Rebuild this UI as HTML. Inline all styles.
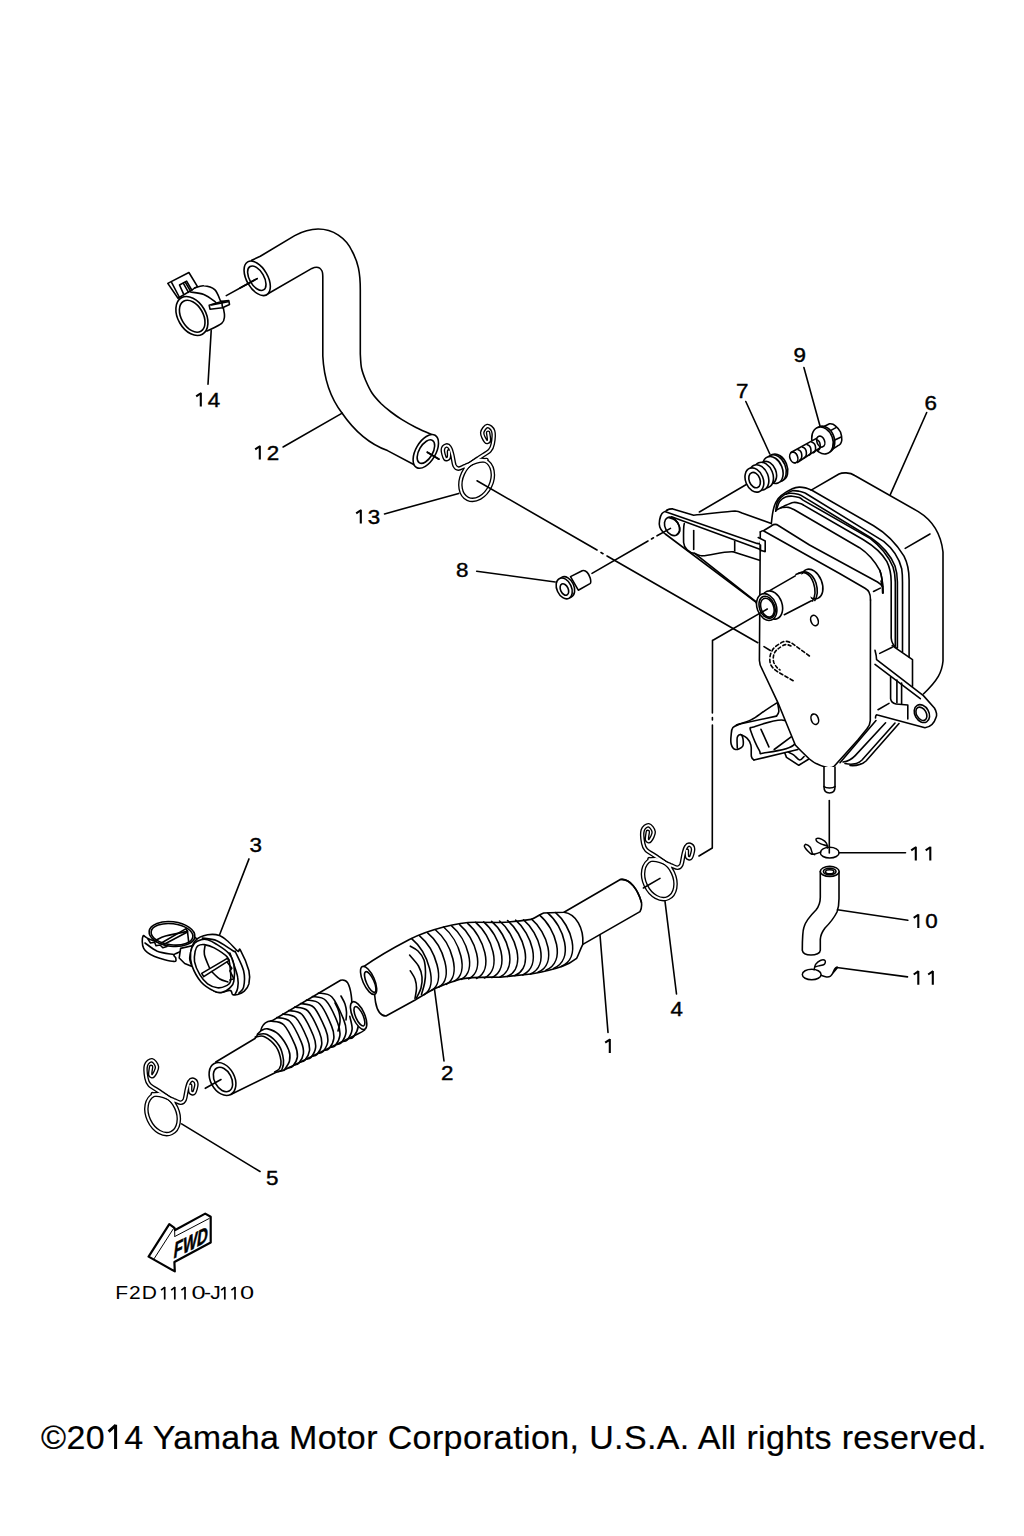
<!DOCTYPE html>
<html><head><meta charset="utf-8"><style>
html,body{margin:0;padding:0;background:#fff;}
body{width:1024px;height:1536px;position:relative;overflow:hidden;}
svg{position:absolute;left:0;top:0;}
.k{fill:none;stroke:#000;stroke-width:1.6;stroke-linecap:round;stroke-linejoin:round;}
.k .w{fill:#fff;}
.lb{font-family:"Liberation Sans",sans-serif;font-size:20px;fill:#000;letter-spacing:0.6px;stroke:#000;stroke-width:0.4px;}
.ft{font-family:"Liberation Sans",sans-serif;}
</style></head><body>
<svg width="1024" height="1536" viewBox="0 0 1024 1536">
<g class="k">
<path d="M251.7,260.3 L260.3,256.3 L294.7,235.6 C305,230 312,229 318.1,229 C333,229 346,238 352,251 C358,262 360.3,272 360.3,290 L360.3,354  C360.5,356.3 360.6,363.6 361.5,368.0 C362.4,372.4 363.9,376.1 365.6,380.3 C367.4,384.5 369.4,389.1 372.0,393.0 C374.6,396.9 378.1,400.6 381.2,403.8 C384.4,406.9 387.6,409.4 391.0,412.0 C394.4,414.6 397.4,416.8 401.6,419.4 C405.8,422.0 410.8,424.9 416.0,427.5 C421.2,430.1 430.0,433.8 432.8,435.0"/>
<path d="M265.8,295 L311.9,268.4 C316,266.5 320,267 322,271 C323,273 322.8,276 322.8,280 L322.8,356 C324,380 332,400 342,413 C355,432 372,445 387.5,450.6 L415.6,465.5"/>
<ellipse cx="257.2" cy="278.3" rx="10.5" ry="19" transform="rotate(-30 257.2 278.3)" fill="#fff"/>
<ellipse cx="256.8" cy="278.2" rx="7.2" ry="13.5" transform="rotate(-30 256.8 278.2)"/>
<ellipse cx="425.8" cy="451.4" rx="10" ry="18.6" transform="rotate(30 425.8 451.4)" fill="#fff"/>
<ellipse cx="425.9" cy="451.6" rx="6.8" ry="13" transform="rotate(30 425.9 451.6)"/>
<line x1="240" y1="288" x2="257.2" y2="278.6"/>
<line x1="427.3" y1="452.2" x2="439" y2="459.2"/>
<path d="M167.8,283.4 L188.9,272.5 L197.5,286.6 L178.0,298.3Z" fill="#fff"/>
<path d="M171.7,282.7 L179.5,297.5"/>
<path d="M183.4,293.6 L179.5,285.0 L186.6,281.1 L192.0,290.5"/>
<path d="M183.4,283.4 L188.5,292.4"/>
<path d="M185.4,282.3 L190.5,291.2"/>
<path d="M196.7,287.3 L203.8,285.8 L214.7,289.7 L220.2,300.6 L223.3,307.7 L224.1,316.2 L221.7,323.3 L206.9,331.1 L197.5,335.0 L183.4,299.1Z" fill="#fff" stroke="none"/>
<path d="M194.4,288.1 C195.9,287.7 200.4,285.5 203.8,285.8 C207.1,286.0 211.9,287.1 214.7,289.7 C217.5,292.2 219.6,299.1 220.5,301.0"/>
<path d="M190.5,292.0 C192.7,292.4 199.7,292.8 203.8,294.4 C207.8,295.9 212.6,299.8 214.7,301.4 C216.8,303.0 216.0,303.4 216.2,303.8"/>
<path d="M223.3,307.7 C223.5,309.1 224.7,313.6 224.5,316.2 C224.2,318.9 224.6,320.8 221.7,323.3 C218.8,325.8 209.3,329.8 206.9,331.1"/>
<ellipse cx="191.9" cy="316" rx="14" ry="21" transform="rotate(-30 191.9 316)" fill="#fff"/>
<ellipse cx="192.2" cy="316.2" rx="10.9" ry="17.3" transform="rotate(-30 192.2 316.2)"/>
<path d="M209.2,305.3 L221.7,301.4 L228.8,300.6 L229.5,304.5 L222.5,307.7 L210.0,309.2Z" fill="#fff"/>
<path d="M221.7,301.4 L222.5,307.7"/>
<path d="M211.6,304.9 L228.0,301.8"/>
</g>
<defs><g id="wc" fill="none"><ellipse cx="0" cy="0" rx="15" ry="21" transform="rotate(-25)"/><path d="M-11.5,-47.1 C-11.6,-45.8 -12.7,-40.7 -12.3,-39.3 C-11.9,-37.9 -10.3,-37.2 -9.2,-38.5 C-8.1,-39.8 -5.4,-44.6 -5.6,-47.1 C-5.9,-49.7 -8.9,-53.5 -10.7,-53.8 C-12.5,-54.0 -15.7,-51.6 -16.6,-48.7 C-17.5,-45.8 -16.8,-39.4 -16.2,-36.2 C-15.6,-32.9 -15.5,-31.6 -13.1,-29.2 C-10.6,-26.7 -5.4,-24.2 -1.4,-21.3 C2.7,-18.5 9.1,-13.5 11.1,-12.0"/><path d="M-9.9,-19.8 C-8.3,-19.5 -3.3,-19.2 0.2,-18.2 C3.7,-17.2 8.2,-15.1 11.1,-13.9 C14.1,-12.8 16.4,-11.1 18.2,-11.2 C20.0,-11.3 21.0,-12.0 22.1,-14.3 C23.1,-16.7 23.6,-22.3 24.4,-25.2 C25.2,-28.2 25.7,-30.8 26.8,-32.3 C27.8,-33.8 29.5,-34.6 30.7,-34.2 C31.9,-33.8 33.7,-32.1 33.8,-29.9 C33.9,-27.8 32.4,-22.6 31.5,-21.3 C30.5,-20.0 28.6,-21.0 27.9,-22.1 C27.3,-23.3 27.6,-27.3 27.6,-28.4"/></g></defs>
<g transform="translate(162.6,1114)"><use href="#wc" stroke="#000" stroke-width="4.6" stroke-linecap="round" stroke-linejoin="round"/><use href="#wc" stroke="#fff" stroke-width="1.9" stroke-linecap="round" stroke-linejoin="round"/></g>
<g transform="translate(659.3,879)"><use href="#wc" stroke="#000" stroke-width="4.6" stroke-linecap="round" stroke-linejoin="round"/><use href="#wc" stroke="#fff" stroke-width="1.9" stroke-linecap="round" stroke-linejoin="round"/></g>
<g transform="translate(476.6,479.8) scale(-1,1)"><use href="#wc" stroke="#000" stroke-width="4.6" stroke-linecap="round" stroke-linejoin="round"/><use href="#wc" stroke="#fff" stroke-width="1.9" stroke-linecap="round" stroke-linejoin="round"/></g>
<g class="k">
<path d="M811.2,490.1 L839,474 C842,472.5 850,472 854.7,475.5 L918.3,511.6 C932,520 941,534 943,552 L943,661 C942,672 938,680 923.4,694 L870,745 L845,765 L830,768 L760,660 L760,532 Z" fill="#fff" stroke="none"/>
<path d="M811.2,490.1 L839,474 C842,472.5 850,472 854.7,475.5 L918.3,511.6 C932,520 941,534 943,552 L943,661 C942,672 938,680 923.4,694"/>
<path d="M771.3,524.0 C771.5,522.0 772.1,515.9 772.8,512.3 C773.5,508.7 774.3,505.3 775.7,502.5 C777.1,499.7 778.3,498.0 781.1,495.7 C783.9,493.4 789.3,490.2 792.3,488.8 C795.3,487.4 797.0,487.2 799.2,487.1 C801.4,487.0 803.4,487.4 805.5,487.9 C807.6,488.4 810.8,489.9 811.9,490.3 L873.6,525.8 C884,532 896,543 904,556.2 C908,564 909.1,572 909.1,580 L909.1,657"/>
<path d="M786.0,494.2 C787.0,493.6 790.1,491.3 792.3,490.8 C794.5,490.3 797.0,490.9 799.2,491.3 C801.4,491.7 804.5,492.9 805.5,493.2 L883.7,541.4 C892,548 899,558 901.7,568.7 C902.5,574 902.5,578 902.5,582 L902.5,652"/>
<path d="M775.7,511.3 C776.0,509.7 776.2,504.3 777.7,501.5 C779.2,498.7 782.4,496.1 784.5,494.7 C786.6,493.3 788.1,493.3 790.4,493.2 C792.7,493.1 796.4,493.8 798.2,494.2 C800.1,494.6 801.0,495.4 801.5,495.6 L871.2,538 C880,544 890,554 895,566 C897,572 897.4,577 897.4,582 L897.4,648"/>
<path d="M776.7,509.3 C777.2,508.0 778.1,503.5 779.6,501.5 C781.1,499.5 783.4,498.0 785.5,497.1 C787.6,496.2 790.0,496.1 792.3,496.2 C794.6,496.3 797.4,497.0 799.2,497.6 C801.0,498.2 802.4,499.7 803.0,500.1 L870.4,538.6 C878.5,544.8 888,555 893,567 C895,573 895.3,577 895.3,582 L895.3,646"/>
<path d="M776.2,510.3 C777.4,509.6 780.6,507.7 783.5,506.4 C786.4,505.1 790.5,503.0 793.3,502.5 C796.1,502.0 798.4,503.0 800.2,503.5 C802.0,504.0 803.4,505.1 804.0,505.4 L863.4,539.8 C872,545 882,553 886.9,561.7 C890,568 891.2,575 891.2,582 L891.2,638 C891.5,642 893,645 896,647.5"/>
<path d="M781.0,507.6 C782.2,507.6 786.2,507.0 788.4,507.4 C790.6,507.8 793.3,509.4 794.3,509.8 L859.5,547.7 C866,552 874,560 879.8,570.3 C882,576 882.8,583 883,593"/>
<path d="M876,720.5 L840,762.7"/>
<path d="M885.6,722.8 L855.2,755.6 C851,760 847,761.5 843,762"/>
<path d="M895,723 L862,760 C858,764 852,765 845,763.5"/>
<path d="M899,723.5 L866,761 C862,764.5 856,766 850,765.5"/>
<path d="M875,650.3 C876,654 876.6,657 876.6,659.7 L923.4,695.6 L934.4,708 C937,712 937,716 936,717.5 C934,724 931,727 925,727.7 L875,714.4 Z" fill="#fff" stroke="none"/>
<path d="M875,650.3 C876,654 876.6,657 876.6,659.7 L923.4,695.6 L934.4,708 C937,712 937,716 936,717.5 C934,724 931,727 925,727.7 L877.5,715 C876,714.5 875.5,716 875.5,718"/>
<path d="M875,664.4 L920.3,698.7"/>
<path d="M892.2,645.6 L912.5,659.7 L912.5,686.2"/>
<path d="M890.6,677 L890.6,698.7 C891,702 893,703.4 896,704 L907.8,705 L907.8,719"/>
<path d="M896.9,680 L896.9,703"/><path d="M901.6,683 L901.6,704"/>
<ellipse cx="921.9" cy="713.6" rx="7" ry="9.5" transform="rotate(-30 921.9 713.6)" fill="#fff"/>
<ellipse cx="921.4" cy="713.8" rx="4.8" ry="7.2" transform="rotate(-30 921.4 713.8)"/>
<path d="M879.7,653.4 L892.2,647.2"/><path d="M878,709.7 L889,703.4"/>
<path d="M905.2,548.4 L930,534"/>
<path d="M659.5,525.3 C659,518 662,513 666.6,511.2 C669,509.5 671,509 672.8,508.9 L693.1,515.2 C700,515 720,512 733.7,511.2 C736,511 738,511.5 740,512.8 L771.3,524 L763.4,616 C761,612 759,607 755.6,601.9 L665,535 C661,532 660,529 659.5,525.3 Z" fill="#fff" stroke="none"/>
<path d="M667.5,510.2 C666.6,510.8 663.3,511.9 662.0,513.5 C660.7,515.1 660.0,517.8 659.6,520.0 C659.2,522.2 659.2,525.0 659.8,527.0 C660.4,529.0 662.0,530.8 663.0,532.0 C664.0,533.2 665.5,534.1 666.0,534.5"/>
<path d="M666,534.5 L755.6,601.9 C759,607 761,612 763.4,616"/>
<path d="M667,510 C669,509 671,508.8 672.8,508.9 L693.7,515.2 C705,514.5 725,511.5 735,511 C738,511 740,512 742,513 L771.3,523.5"/>
<path d="M665.5,511.7 L757,543.4 C759.5,544 761,544.3 762.5,544.6"/>
<path d="M671.5,516.8 L760.5,549.5"/>
<path d="M694.7,553.4 L757.5,603"/>
<path d="M684.3,523.6 C683.5,526 683.4,532 683.6,542.5 C684,548 689,553 694.7,553.4 C698,555 701,556 702.5,555.8 C712,555 725,551 733.7,551.9 L760.3,560.5"/>
<path d="M693.7,530.5 L693.7,549.5"/><path d="M734.7,541.5 L734.7,551"/>
<ellipse cx="672" cy="526.4" rx="6.8" ry="9.8" transform="rotate(-28 672 526.4)" fill="#fff"/>
<path d="M669.0,517.5 C670.0,517.9 673.3,518.7 675.0,520.0 C676.7,521.3 678.2,523.7 679.0,525.5 C679.8,527.3 680.1,529.5 679.8,531.0 C679.5,532.5 677.5,533.9 677.0,534.5"/>
<path d="M776.9,702.9 L764.6,710.8 L751.4,719.6 L736.4,724.9 L732.0,728.4 L731.2,744.2 L735.5,749.5 L742.6,746.0 L743.5,737.2 L740.8,734.6 L745.2,736.3 L749.6,742.5 L751.4,747.7 L751.4,756.5 L754.0,760.0 L784.8,753.0 L798.8,765.3 L808.5,759.2 L795.3,744.2Z" fill="#fff" stroke="none"/>
<path d="M776.9,702.9 C774.8,704.2 768.8,708.0 764.6,710.8 C760.3,713.6 756.1,717.3 751.4,719.6 C746.7,722.0 738.9,724.0 736.4,724.9"/>
<path d="M777.7,703.8 C777.9,705.1 779.0,709.6 778.8,711.7 C778.6,713.7 776.8,715.4 776.4,716.1"/>
<path d="M776.4,716.1 L739.9,724.0"/>
<path d="M739.9,724.0 C738.8,724.6 734.4,725.8 732.9,727.5 C731.4,729.3 731.4,731.8 731.2,734.6 C730.9,737.3 730.4,741.7 731.2,744.2 C731.9,746.7 733.6,749.1 735.5,749.5 C737.5,749.9 741.3,748.2 742.6,746.4 C743.8,744.7 743.3,740.9 743.0,738.9 C742.7,737.0 741.8,734.8 740.8,734.6 C739.9,734.3 737.9,735.0 737.3,737.2 C736.7,739.4 737.3,746.0 737.3,747.7"/>
<path d="M740.8,734.6 C741.8,735.1 745.3,736.3 747.0,738.1 C748.7,739.8 750.2,742.0 750.9,745.1 C751.7,748.2 750.9,754.0 751.4,756.5 C751.9,759.0 753.6,759.5 754.0,760.0"/>
<path d="M754.0,760.0 L797.9,749.5"/>
<path d="M751.4,727.5 C756.9,726.3 777.6,717.7 784.8,720.5 C791.9,723.3 797.9,738.8 794.4,744.2 C790.9,749.6 769.5,752.0 763.7,753.0 C757.8,754.0 761.5,754.2 759.3,750.4 C757.1,746.6 751.8,734.0 750.5,730.2 C749.2,726.3 751.2,728.0 751.4,727.5"/>
<path d="M774.2,749.5 L791.8,736.3"/>
<path d="M761.0,729.3 L768.9,746.9"/>
<path d="M784.8,753.0 L786.5,757.4 L798.8,765.3 L808.5,759.2"/>
<path d="M788.3,752.1 C789.2,752.6 791.6,753.4 793.6,754.8 C795.5,756.1 797.9,759.7 799.7,760.0 C801.5,760.3 803.4,757.1 804.1,756.5"/>
<path d="M760.3,531.9 C761,531 762.5,530.7 763.8,530.5 L771.7,525.7 C773,524.7 774,524.4 775.2,524.4 C776.5,524.4 777.5,524.8 777.9,525.3 L809.5,545 L877.5,582 C880,583.5 881.5,585 882.6,586.7 L870.5,600 L870.3,720.6 C870,724 869,726.5 867.2,728.4 L857.8,740 L834.4,766 C832,768 830,768 828,767.7 C820,766 814,763 809.4,759 C803,753 799,749 795.3,745 L778,702.8 L762.5,670 C760,666 759.4,663 759.4,660.6 Z" fill="#fff" stroke="none"/>
<path d="M760.3,531.9 C761,531 762.5,530.7 763.8,530.5 L771.7,525.7 C773,524.7 774,524.4 775.2,524.4 C776.5,524.4 777.5,524.8 777.9,525.3 L809.5,545 L877.5,582 C880,583.5 881.5,585 882.6,586.7"/>
<path d="M870.5,600 L870.3,720.6 C870,724 869,726.5 867.2,728.4 L857.8,740 L834.4,766 C832,768 830,768 828,767.7 C820,766 814,763 809.4,759 C803,753 799,749 795.3,745 L778,702.8 L762.5,670 C760,666 759.4,663 759.4,660.6 L760.3,531.9"/>
<path d="M763.8,531 L840,573.8 L865,588.3 C867,589.5 868.5,591 869,592.2 C870,594 870.5,597 870.5,600"/>
<path d="M758.2,537.5 L765.2,541 L765.2,551.6 L760.5,550.4 L760.5,545" fill="#fff"/>
<path d="M873.5,591.5 L880.3,588.1"/><path d="M881,581 C882,584 882.8,589 882.6,593"/>
<path d="M879.8,570.3 C882,576 882.8,583 883,593"/>
<ellipse cx="814.5" cy="620.5" rx="3.6" ry="5.4" transform="rotate(-20 814.5 620.5)"/>
<ellipse cx="814.8" cy="719.2" rx="3.6" ry="5.4" transform="rotate(-20 814.8 719.2)"/>
<path d="M809.4,656 L792.2,643.4 C788,641 785,641 782.8,641.9 C777,645 773,648 771.9,651.2 C769.5,655 769.5,660 770.3,663.7 C772,668 776,671 779.7,673 L793.7,681" stroke-dasharray="3.5,2.5"/>
<path d="M791,646 C787,644 785,644.5 783,645.5 C778,648.5 775,651 774,654 C773,657 773,660 774,663 C775.5,666 777,668 780,670" stroke-dasharray="3,2.5"/>
<ellipse cx="812" cy="584" rx="10" ry="15.5" transform="rotate(-22 812 584)" fill="#fff"/>
<path d="M796,574.5 C803,570 810,573 813.5,583 C815.5,589 815.5,596 812.5,601"/>
<path d="M798.5,573.5 C805.5,569.5 812.5,573 816,583 C817.8,589 817.6,596 814.8,600.5"/>
<path d="M769.7,590.6 L795.3,575.9 L803,574 L809,590 L811.4,600.8 L784.3,614.7 Z" fill="#fff" stroke="none"/>
<path d="M769.7,590.6 L795.3,575.9 M784.3,614.7 L811.4,600.8"/>
<ellipse cx="772" cy="605" rx="10" ry="14.6" transform="rotate(-20 772 605)" fill="#fff"/>
<ellipse cx="766.8" cy="607.2" rx="9.6" ry="13.8" transform="rotate(-20 766.3 607.4)" fill="#fff"/>
<ellipse cx="767.2" cy="607.5" rx="7.6" ry="11.4" transform="rotate(-20 766.6 607.6)"/>
<ellipse cx="767.4" cy="607.8" rx="6.3" ry="9.8" transform="rotate(-20 767 607.8)"/>
<path d="M824,767 L824,787 C824,791 826,793 829.5,793 C833,793 835,791 835,787 L835,767" fill="#fff"/>
<path d="M824,786.5 C826,788.5 833,788.5 835,786.5"/>
</g>
<g class="k">
<path d="M363.3,966.9 C380,955 395,947 409.4,939.5 C420,934 432,930 443.7,927 C455,924 465,922.3 475,922.3 L500,922.5 C512,922 522,921 531,919.4 C536,918 540,914 543.7,913 L564,912.3 L620.3,879.5 C630,878 638,890 641.4,902.2 C642,906 641.5,909 640,911.6 L582.8,944.4 C580,950 578,956 576.6,958.4 C572,962 566,965 562.5,966.2 C552,970 542,972 531,974 L500,977.2 C488,977 470,977 459.4,979.4 C450,982 442,985 434.4,988.7 C428,992 420,997 415.6,999.7 L386,1016 C380,1016 377,1010 375.5,1002 C375,998 374.8,996 374.6,994.5 Z" fill="#fff"/>
<path d="M411.6,938.7 C427.8,952.1 439.0,985.7 424.2,994.6"/>
<path d="M419.6,935.8 C435.4,948.9 446.3,981.6 431.6,990.4"/>
<path d="M427.6,932.9 C443.3,945.9 454.1,978.4 438.9,987.0"/>
<path d="M435.6,930.0 C451.4,943.0 462.2,975.6 446.3,984.3"/>
<path d="M443.6,927.0 C459.4,940.1 470.3,972.7 454.0,981.4"/>
<path d="M451.6,925.8 C467.1,938.6 477.8,970.7 461.3,979.3"/>
<path d="M459.6,924.6 C475.3,937.6 486.2,970.2 468.7,978.9"/>
<path d="M467.6,923.4 C483.6,936.6 494.6,969.7 476.5,978.5"/>
<path d="M475.6,922.3 C491.8,935.7 502.9,969.1 484.4,978.0"/>
<path d="M483.6,921.9 C499.8,935.2 510.9,968.7 492.0,977.6"/>
<path d="M491.6,921.4 C507.8,934.8 518.9,968.3 499.7,977.2"/>
<path d="M499.6,921.0 C515.7,934.3 526.8,967.6 507.4,976.4"/>
<path d="M507.6,920.6 C523.6,933.8 534.6,966.8 515.0,975.6"/>
<path d="M515.6,920.2 C531.5,933.3 542.4,966.1 522.7,974.9"/>
<path d="M523.6,919.8 C539.3,932.8 550.2,965.4 530.3,974.1"/>
<path d="M531.6,919.1 C547.0,931.9 557.7,963.8 538.0,972.3"/>
<path d="M539.6,915.1 C555.6,928.3 566.7,961.5 545.9,970.3"/>
<path d="M547.6,912.9 C563.7,926.2 574.8,959.5 553.6,968.4"/>
<path d="M555.6,912.6 C571.2,925.5 582.0,957.9 561.1,966.5"/>
<path d="M564,912.3 C576,914 584,928 582.8,944.4"/>
<path d="M410.3,946.2 C411.6,947.0 415.7,948.7 418.0,951.0 C420.3,953.3 422.8,956.5 424.0,960.0 C425.2,963.5 425.4,968.2 425.5,972.0 C425.6,975.8 425.3,979.2 424.6,983.0 C423.9,986.8 422.0,992.6 421.5,994.5"/>
<path d="M409.6,955.1 C411.1,956.9 416.4,962.4 418.5,966.0 C420.6,969.6 421.6,973.3 422.0,977.0 C422.4,980.7 421.9,984.5 421.0,988.0 C420.1,991.5 417.2,996.3 416.5,998.0"/>
<path d="M410.3,970.8 C411.1,972.2 414.0,976.1 415.0,979.0 C416.0,981.9 416.5,984.8 416.5,988.0 C416.5,991.2 415.2,996.8 415.0,998.5"/>
<ellipse cx="368.6" cy="980.4" rx="5.8" ry="15.1" transform="rotate(-24 368.6 980.4)" fill="#fff"/>
<ellipse cx="370.2" cy="982" rx="3.8" ry="11.2" transform="rotate(-24 370.2 982)"/>
<path d="M620.3,879.5 C630,878 638,890 641.4,902.2"/>
</g>
<g class="k">
<path d="M215.8,1062 L255,1038.5 L260.6,1031 C262,1026 265,1022 272.3,1020.6 L340.6,980.2 C344,979.5 346.5,981 347.7,982.9 C349.5,986 350.5,990 351.2,995.2 L353,1004 L365.2,1026.8 L358.2,1033.8 L282.6,1070.7 L275.6,1072.5 L230.8,1094.5 L210,1070 Z" fill="#fff" stroke="none"/>
<path d="M215.8,1062 L255,1038.5 C256.5,1036 258,1035 257.5,1034 L260.6,1031.2 C261.5,1027 264,1023 268,1021.6 C270,1021 271,1020.8 272.3,1020.6 L340.6,980.2 C344,979.5 346.5,981 347.7,982.9 C349.5,986 350.5,990 351.2,995.2 C351.6,998 351.8,1000 351.8,1002"/>
<path d="M230.8,1094.5 L275.6,1072.5 C278,1071.5 280,1071 282.6,1070.7 L358.2,1033.8 C361,1032.5 363,1031.5 364.6,1030"/>
<path d="M255.2,1037.0 C256.8,1037.0 261.0,1035.0 264.5,1036.7 C268.0,1038.4 273.4,1042.9 276.2,1046.9 C278.9,1051.0 280.5,1057.4 281.0,1061.0 C281.5,1064.6 280.4,1066.9 279.4,1068.7 C278.3,1070.5 275.5,1071.4 274.7,1071.9"/>
<path d="M257.5,1034.5 C259.1,1034.5 263.4,1032.7 267.0,1034.5 C270.6,1036.3 276.2,1041.2 279.0,1045.5 C281.8,1049.8 283.0,1056.0 283.5,1060.0 C284.0,1064.0 282.8,1067.6 282.0,1069.5 C281.2,1071.4 279.1,1071.2 278.5,1071.5"/>
<path d="M261.4,1030.5 C262.4,1030.2 264.8,1028.2 267.7,1028.9 C270.6,1029.6 275.1,1030.9 278.6,1034.4 C282.1,1037.9 286.9,1045.6 288.7,1050.0 C290.5,1054.4 290.3,1057.6 289.5,1061.0 C288.7,1064.4 284.9,1068.8 284.0,1070.3"/>
<path d="M270.8,1021.1 C273.0,1021.7 279.7,1020.7 283.7,1024.7 C287.8,1028.7 292.8,1039.8 295.1,1045.1 C297.4,1050.5 297.7,1053.3 297.4,1056.8 C297.0,1060.3 294.3,1064.4 292.8,1066.2 C291.3,1068.0 289.1,1067.4 288.3,1067.7"/>
<path d="M276.8,1017.6 C278.9,1018.2 285.7,1017.2 289.7,1021.3 C293.8,1025.3 298.9,1036.5 301.2,1041.9 C303.5,1047.3 303.8,1050.2 303.4,1053.7 C303.0,1057.3 300.4,1061.4 298.8,1063.3 C297.3,1065.1 295.1,1064.5 294.3,1064.8"/>
<path d="M282.7,1014.1 C284.9,1014.7 291.7,1013.7 295.8,1017.8 C299.9,1021.9 305.0,1033.3 307.3,1038.7 C309.5,1044.2 309.9,1047.1 309.5,1050.7 C309.1,1054.3 306.4,1058.5 304.9,1060.3 C303.4,1062.2 301.1,1061.6 300.4,1061.9"/>
<path d="M288.7,1010.6 C290.8,1011.2 297.7,1010.2 301.8,1014.3 C305.9,1018.5 311.0,1030.0 313.3,1035.5 C315.6,1041.1 316.0,1044.0 315.6,1047.6 C315.2,1051.3 312.5,1055.5 311.0,1057.4 C309.4,1059.3 307.2,1058.7 306.4,1059.0"/>
<path d="M294.6,1007.1 C296.8,1007.7 303.7,1006.7 307.8,1010.9 C311.9,1015.1 317.1,1026.7 319.4,1032.3 C321.7,1038.0 322.1,1040.9 321.7,1044.6 C321.3,1048.3 318.6,1052.6 317.0,1054.5 C315.5,1056.4 313.2,1055.8 312.5,1056.1"/>
<path d="M300.6,1003.5 C302.8,1004.2 309.7,1003.2 313.8,1007.4 C318.0,1011.7 323.1,1023.5 325.5,1029.1 C327.8,1034.8 328.2,1037.8 327.8,1041.5 C327.4,1045.3 324.6,1049.6 323.1,1051.6 C321.5,1053.5 319.3,1052.9 318.5,1053.2"/>
<path d="M306.5,1000.0 C308.7,1000.7 315.6,999.6 319.8,1004.0 C324.0,1008.3 329.2,1020.2 331.5,1025.9 C333.9,1031.7 334.2,1034.7 333.8,1038.5 C333.4,1042.3 330.7,1046.7 329.1,1048.6 C327.6,1050.6 325.3,1050.0 324.5,1050.2"/>
<path d="M312.4,996.5 C314.7,997.2 321.6,996.1 325.8,1000.5 C330.0,1004.9 335.3,1016.9 337.6,1022.7 C340.0,1028.6 340.3,1031.6 339.9,1035.5 C339.5,1039.3 336.8,1043.7 335.2,1045.7 C333.6,1047.7 331.3,1047.1 330.6,1047.3"/>
<path d="M318.4,993.0 C320.6,993.7 327.6,992.6 331.9,997.0 C336.1,1001.4 341.3,1013.7 343.7,1019.6 C346.0,1025.4 346.4,1028.5 346.0,1032.4 C345.6,1036.3 342.8,1040.8 341.3,1042.8 C339.7,1044.8 337.4,1044.2 336.6,1044.4"/>
<path d="M349.8,1016.4 C350.1,1018.5 352.5,1025.4 352.1,1029.4 C351.7,1033.3 348.9,1037.8 347.3,1039.9 C345.7,1041.9 343.4,1041.3 342.6,1041.5"/>
<path d="M355.8,1013.2 C356.2,1015.3 358.6,1022.3 358.2,1026.3 C357.8,1030.3 355.0,1034.9 353.4,1036.9 C351.8,1039.0 349.5,1038.4 348.7,1038.6"/>
<path d="M335.0,1003.0 C335.7,1004.5 338.2,1008.8 339.0,1012.0 C339.8,1015.2 340.2,1018.8 340.0,1022.0 C339.8,1025.2 338.3,1029.5 338.0,1031.0"/>
<path d="M341.0,996.0 C341.7,997.3 344.1,1001.3 345.0,1004.0 C345.9,1006.7 346.3,1009.3 346.5,1012.0 C346.7,1014.7 346.1,1018.7 346.0,1020.0"/>
<ellipse cx="222.5" cy="1079" rx="12" ry="17.5" transform="rotate(-28 222.5 1079)" fill="#fff"/>
<ellipse cx="223" cy="1079.5" rx="8.5" ry="13" transform="rotate(-28 223 1079.5)"/>
<ellipse cx="358.6" cy="1015.6" rx="6" ry="15" transform="rotate(-24 358.6 1015.6)" fill="#fff"/>
<ellipse cx="359.4" cy="1016.3" rx="3.7" ry="10.5" transform="rotate(-24 359.4 1016.3)"/>
</g>
<g class="k">
<path d="M143.0,936.1 C142.1,937.7 141.7,945.0 143.7,948.4 C145.6,951.9 149.6,954.5 154.6,956.6 C159.6,958.8 170.2,961.2 173.8,961.4 C177.3,961.7 175.6,959.3 175.8,958.0 C176.0,956.8 172.0,956.0 175.1,953.9 C178.2,951.9 191.1,948.4 194.3,945.7 C197.5,943.0 198.1,937.5 194.3,937.5 C190.4,937.5 178.5,945.5 171.0,945.7 C163.5,945.9 153.8,940.5 149.1,938.9 C144.5,937.3 143.9,934.5 143.0,936.1Z" fill="#fff"/>
<ellipse cx="172" cy="934" rx="23" ry="12.3" transform="rotate(7 172 934)" fill="#fff"/>
<ellipse cx="172" cy="934.3" rx="21" ry="10.6" transform="rotate(7 172 934.3)"/>
<path d="M145.0,943.0 C147.1,944.3 152.6,949.2 157.3,951.2 C162.1,953.1 171.0,954.0 173.8,954.6"/>
<path d="M156.0,940.2 C157.6,939.6 160.3,937.6 165.5,936.1 C170.8,934.7 183.8,932.1 187.4,931.4"/>
<path d="M161.4,943.0 L186.1,928.6 L187.4,932.0 L164.2,944.3"/>
<path d="M187.4,930.7 L188.8,943.0"/>
<path d="M147.8,938.9 L150.5,943.0 L154.6,942.3 L156.0,945.7 L160.1,945.0 L162.8,947.8 L166.9,946.4"/>
<path d="M180.6,948.4 L192.2,945.7 L194.3,953.9 L191.5,966.2 L184.7,963.5 L179.2,958.0Z" fill="#fff"/>
<path d="M195.9,940.1 C198.7,937.1 203.7,935.6 207.6,934.8 C211.6,934.1 215.9,934.3 219.4,935.5 C222.9,936.7 225.5,939.4 228.6,942.0 C231.6,944.6 235.8,949.8 237.7,951.2 C239.7,952.5 238.5,946.9 240.4,950.2 C242.2,953.5 247.4,965.2 248.9,970.8 C250.3,976.4 249.6,980.5 248.9,983.9 C248.1,987.3 246.1,989.4 244.3,991.1 C242.4,992.8 239.7,993.8 237.7,994.4 C235.8,994.9 233.8,995.0 232.5,994.4 C231.2,993.7 232.9,991.0 229.9,990.4 C226.8,989.9 220.5,995.2 214.2,991.1 C207.9,987.0 195.9,972.0 191.9,965.6 C188.0,959.1 190.0,956.7 190.6,952.5 C191.3,948.2 193.0,943.0 195.9,940.1Z" fill="#fff"/>
<path d="M202.4,938.1 C204.8,938.5 211.8,938.6 216.8,940.7 C221.8,942.8 229.4,948.7 232.5,950.5 C235.6,952.4 234.7,951.6 235.1,951.8"/>
<path d="M235.1,951.2 C236.5,954.5 242.2,964.8 243.6,970.8 C245.0,976.8 244.4,983.5 243.6,987.2 C242.9,990.9 239.8,992.1 239.0,993.1"/>
<path d="M229.9,953.1 C230.5,955.0 232.5,960.2 233.8,964.3 C235.1,968.3 237.1,973.4 237.7,977.4 C238.4,981.3 238.2,985.0 237.7,987.8 C237.3,990.7 235.6,993.3 235.1,994.4"/>
<path d="M190.6,952.5 C191.1,948.8 192.8,945.5 194.5,943.3 C196.3,941.2 198.9,940.3 201.1,939.7 C203.3,939.1 205.1,939.0 207.6,939.7 C210.1,940.4 212.7,941.7 216.1,944.0 C219.6,946.2 225.6,949.8 228.6,953.1 C231.5,956.5 232.9,959.6 233.8,964.3 C234.7,969.0 234.5,977.4 233.8,981.3 C233.2,985.2 231.8,986.0 229.9,987.8 C227.9,989.7 224.6,991.9 222.0,992.4 C219.4,993.0 217.7,992.8 214.2,991.1 C210.7,989.4 204.8,986.2 201.1,981.9 C197.4,977.7 193.7,970.5 191.9,965.6 C190.2,960.7 190.2,956.2 190.6,952.5Z" fill="#fff"/>
<path d="M195.2,951.2 C195.7,948.6 196.3,947.0 197.8,945.9 C199.3,944.9 201.6,944.3 204.4,944.6 C207.1,945.0 210.4,945.8 214.2,947.9 C218.0,950.0 224.6,954.1 227.3,957.1 C229.9,960.0 229.3,961.5 229.9,965.6 C230.4,969.6 231.2,977.9 230.5,981.3 C229.9,984.7 228.1,984.8 226.0,985.9 C223.8,987.0 220.5,988.2 217.5,987.8 C214.4,987.5 210.6,986.1 207.6,983.9 C204.7,981.7 202.0,978.4 199.8,974.7 C197.6,971.0 195.3,965.6 194.5,961.6 C193.8,957.7 194.7,953.8 195.2,951.2Z"/>
<path d="M201.7,973.4 L227.3,958.4 L229.2,960.3 L203.7,976.7 L201.7,973.4"/>
<path d="M205.0,945.9 C204.9,947.4 203.6,950.7 204.4,954.5 C205.1,958.2 208.7,965.9 209.6,968.2"/>
<path d="M211.6,971.5 C212.9,972.7 216.7,976.9 219.4,978.7 C222.1,980.4 226.5,981.4 227.9,981.9"/>
<path d="M227.3,962.3 L231.8,968.2 L229.9,970.8 L233.8,978.7 L229.9,980.0"/>
</g>
<g class="k">
<path d="M820.3,871.4 L820.3,897.2 C820.3,903 818.7,906.6 816,910 C812,914 806,920 804,927 C802.3,932 802.3,940 802.3,950.3 C803,954 807,955 811,955 C816,955 820.3,953 820.3,950.3 L820.3,939.4 C820.5,935 822,932 825,928 C829,924 834,918 837,912 C838.5,908 839,903 839,898.7 L839,871.4" fill="#fff"/>
<ellipse cx="829.7" cy="871.4" rx="9.4" ry="5" fill="#fff"/>
<ellipse cx="829.7" cy="871.6" rx="6.3" ry="3.2"/>
<ellipse cx="829.7" cy="871.8" rx="4.2" ry="2.1"/>
</g>
<g class="k" style="stroke-width:1.5">
<ellipse cx="829.7" cy="852.7" rx="9.4" ry="5.4" fill="#fff"/>
<path d="M821.1,851.9 C820.2,852.2 817.2,853.4 815.6,853.8 C814.1,854.1 813.0,854.7 811.7,854.2 C810.4,853.8 809.0,852.4 807.8,851.1 C806.6,849.8 804.6,847.5 804.4,846.4 C804.1,845.3 805.3,844.2 806.2,844.4 C807.2,844.5 809.1,845.7 810.2,847.2 C811.2,848.7 811.7,852.2 812.5,853.4 C813.3,854.7 814.5,854.5 814.8,854.7"/>
<path d="M827.3,848.0 C827.2,847.2 827.5,844.7 826.6,843.3 C825.7,841.8 823.6,840.2 821.9,839.4 C820.2,838.6 817.2,838.2 816.4,838.6 C815.6,839.0 816.0,840.7 817.2,841.7 C818.4,842.8 821.7,844.1 823.4,844.8 C825.2,845.5 827.1,845.8 827.8,845.9"/>
<ellipse cx="811.7" cy="974.5" rx="9.4" ry="5.3" fill="#fff"/>
<path d="M814.1,969.8 C814.3,968.9 814.6,965.9 815.6,964.4 C816.7,962.8 818.8,961.1 820.3,960.5 C821.9,959.8 824.3,959.8 825.0,960.5 C825.7,961.1 825.3,963.5 824.2,964.4 C823.2,965.3 820.2,965.5 818.8,965.9 C817.3,966.3 816.1,966.6 815.6,966.7"/>
<path d="M821.1,975.3 C822.0,975.6 825.0,976.7 826.6,976.9 C828.1,977.0 829.3,976.9 830.5,976.1 C831.6,975.3 832.4,973.6 833.6,972.2 C834.8,970.8 837.2,968.2 837.5,967.5 C837.8,966.8 836.1,967.1 835.2,968.3 C834.2,969.5 832.6,973.5 832.0,974.5"/>
</g>
<g class="k">
<path d="M211.2,330.6 L208.0,384.3"/>
<path d="M283.1,447.0 L342.2,413.1"/>
<path d="M384.5,513.9 L458.7,493.4"/>
<path d="M476.7,571.2 L555.2,582.0"/>
<path d="M745.8,401.5 L769.8,454.0"/>
<path d="M803.9,367.5 L820.0,426.0"/>
<path d="M926.7,412.5 L890.4,494.4"/>
<path d="M249.0,858.9 L219.6,934.8"/>
<path d="M839.0,852.7 L905.5,852.7"/>
<path d="M837.5,909.7 L907.8,920.3"/>
<path d="M836.7,967.5 L907.5,976.9"/>
<path d="M665.0,901.3 L676.5,994.0"/>
<path d="M600.0,935.0 L608.0,1032.4"/>
<path d="M434.4,988.7 L444.0,1061.0"/>
<path d="M181.6,1123.9 L260.0,1171.5"/>
<path d="M226.3,295.6 L257.2,278.6"/>
<path d="M427.3,452.2 L439,459.2"/>
<path d="M477,480.8 L597,550 M601,552.5 L603,553.7 M607,556 L757.8,642.7 M764,646.6 L770.3,650.5"/>
<path d="M592,573.4 L648,541 M651.5,539 L653.5,537.8 M657,535.8 L670.5,528.4"/>
<path d="M699.4,512 L752.3,481"/>
<path d="M713.4,640 L767.3,609"/>
<path d="M712.5,640.3 L712.4,713 M712.4,717.5 L712.4,720 M712.4,725 L712.3,848 L699,856"/>
<path d="M829.3,800.5 L829.3,853"/>
<path d="M643.4,888 L660,878.4"/>
<path d="M205.3,1088.3 L221,1079.5"/>
<ellipse cx="777.5" cy="467.5" rx="9.6" ry="14.0" transform="rotate(-22 777.5 467.5)" fill="#fff"/>
<ellipse cx="776.0" cy="468.3" rx="9.6" ry="14.0" transform="rotate(-22 776.0 468.3)" fill="#fff"/>
<ellipse cx="772.8" cy="470.0" rx="9.6" ry="14.0" transform="rotate(-22 772.8 470.0)" fill="#fff"/>
<ellipse cx="768.2" cy="472.5" rx="7.8" ry="11.5" transform="rotate(-22 768.2 472.5)" fill="#fff"/>
<ellipse cx="763.6" cy="475.0" rx="9.2" ry="13.2" transform="rotate(-22 763.6 475.0)" fill="#fff"/>
<ellipse cx="759.0" cy="477.5" rx="9.2" ry="13.2" transform="rotate(-22 759.0 477.5)" fill="#fff"/>
<ellipse cx="754.4" cy="480.0" rx="8.8" ry="12.6" transform="rotate(-22 754.4 480.0)" fill="#fff"/>
<ellipse cx="754.6" cy="480.1" rx="5.4" ry="8" transform="rotate(-22 754.6 480.1)"/>
<path d="M823,427 L829.5,423.8 C832,423.5 834,424.5 835.4,425.9 C838,428 840,431 840.5,432 C841.5,435 842,438 841.8,440 C841.5,443 840,445 837.7,445.8 L828,452 L818,436 Z" fill="#fff"/>
<path d="M829.5,431.1 L836,427.6 M834.8,440 L841.2,437"/>
<ellipse cx="824" cy="439.6" rx="10.3" ry="13.8" transform="rotate(-20 824 439.6)" fill="#fff"/>
<ellipse cx="822.5" cy="440.5" rx="10.3" ry="13.8" transform="rotate(-20 822.5 440.5)" fill="#fff"/>
<path d="M790.9,452.5 L817.8,437.6 L823,445.8 L797.3,462.5 Z" fill="#fff" stroke="none"/>
<path d="M790.9,452.5 L817.8,437.6 M797.3,462.5 L823,445.8"/>
<ellipse cx="820.8" cy="441.6" rx="3.8" ry="5.6" transform="rotate(-20 820.8 441.6)" fill="#fff"/>
<path d="M793.5,452.2 C798.3,453.5 798.0,461.5 795.0,462.7"/>
<path d="M798.1,449.7 C802.9,451.0 802.6,459.0 799.6,460.2"/>
<path d="M802.7,447.2 C807.5,448.5 807.2,456.5 804.2,457.7"/>
<path d="M807.3,444.7 C812.1,446.0 811.8,454.0 808.8,455.2"/>
<path d="M811.9,442.2 C816.7,443.5 816.4,451.5 813.4,452.7"/>
<path d="M816.5,439.7 C821.3,441.0 821.0,449.0 818.0,450.2"/>
<ellipse cx="793.8" cy="457.5" rx="3.9" ry="5.5" transform="rotate(-20 793.8 457.5)" fill="#fff"/>
<path d="M570.5,576.6 L582.2,570.7 C586,569.5 589,574 590.2,578 C591,581 591,583 590,583.6 L578.3,590.2 Z" fill="#fff"/>
<ellipse cx="566.6" cy="587.1" rx="7.3" ry="11" transform="rotate(-25 566.6 587.1)" fill="#fff"/>
<ellipse cx="564.2" cy="588.4" rx="7.3" ry="11" transform="rotate(-25 564.2 588.4)" fill="#fff"/>
<ellipse cx="564.4" cy="589.5" rx="3.8" ry="6.1" transform="rotate(-25 564.4 589.5)"/>
</g>
<g fill="none" stroke="#000" stroke-linejoin="round">
<path d="M148.6,1256.6 L169.3,1224.1 L174.4,1227.8 L175.2,1230 L205.2,1213.6 L210.7,1216.7 L210.7,1242.5 L174.4,1262 L174.8,1271.4 Z" stroke-width="2.2" fill="#fff"/>
<path d="M154,1258.9 L173.6,1228.4 M175.2,1236.3 L209.5,1218.3 M174.6,1229 L174.8,1237" stroke-width="1"/>
</g>
<text transform="translate(173.8,1258.5) skewY(-26.6) scale(0.68,1)" style="font-family:'Liberation Sans',sans-serif;font-weight:bold;font-style:italic;font-size:22px;stroke:#000;stroke-width:0.6px">FWD</text>
<g id="labels">
<text class="lb" transform="translate(194.5,406.5) scale(1.12,1)"><tspan style="fill:none;stroke:none">1</tspan>4</text>
<path d="M200.8,392.7 L200.8,406.5 M201.1,393.0 L196.2,396.3" stroke="#000" stroke-width="2.1" fill="none" stroke-linecap="butt"/>
<text class="lb" transform="translate(253.5,459.5) scale(1.12,1)"><tspan style="fill:none;stroke:none">1</tspan>2</text>
<path d="M259.8,445.7 L259.8,459.5 M260.1,446.0 L255.2,449.3" stroke="#000" stroke-width="2.1" fill="none" stroke-linecap="butt"/>
<text class="lb" transform="translate(354.5,523.5) scale(1.12,1)"><tspan style="fill:none;stroke:none">1</tspan>3</text>
<path d="M360.8,509.7 L360.8,523.5 M361.1,510.0 L356.2,513.3" stroke="#000" stroke-width="2.1" fill="none" stroke-linecap="butt"/>
<text class="lb" transform="translate(456.0,576.5) scale(1.12,1)">8</text>
<text class="lb" transform="translate(736.0,398.0) scale(1.12,1)">7</text>
<text class="lb" transform="translate(793.5,361.5) scale(1.12,1)">9</text>
<text class="lb" transform="translate(924.5,409.5) scale(1.12,1)">6</text>
<text class="lb" transform="translate(249.5,852.3) scale(1.12,1)">3</text>
<text class="lb" transform="translate(909.5,860.5) scale(1.12,1)"><tspan style="fill:none;stroke:none">1</tspan><tspan style="fill:none;stroke:none">1</tspan></text>
<path d="M915.8,846.7 L915.8,860.5 M916.1,847.0 L911.2,850.3" stroke="#000" stroke-width="2.1" fill="none" stroke-linecap="butt"/>
<path d="M930.3,846.7 L930.3,860.5 M930.6,847.0 L925.7,850.3" stroke="#000" stroke-width="2.1" fill="none" stroke-linecap="butt"/>
<text class="lb" transform="translate(912.0,928.0) scale(1.12,1)"><tspan style="fill:none;stroke:none">1</tspan>0</text>
<path d="M918.3,914.2 L918.3,928.0 M918.6,914.5 L913.7,917.8" stroke="#000" stroke-width="2.1" fill="none" stroke-linecap="butt"/>
<text class="lb" transform="translate(912.0,984.7) scale(1.12,1)"><tspan style="fill:none;stroke:none">1</tspan><tspan style="fill:none;stroke:none">1</tspan></text>
<path d="M918.3,970.9 L918.3,984.7 M918.6,971.2 L913.7,974.5" stroke="#000" stroke-width="2.1" fill="none" stroke-linecap="butt"/>
<path d="M932.8,970.9 L932.8,984.7 M933.1,971.2 L928.2,974.5" stroke="#000" stroke-width="2.1" fill="none" stroke-linecap="butt"/>
<text class="lb" transform="translate(670.5,1016.0) scale(1.12,1)">4</text>
<text class="lb" transform="translate(603.5,1052.9) scale(1.12,1)"><tspan style="fill:none;stroke:none">1</tspan></text>
<path d="M609.8,1039.1 L609.8,1052.9 M610.1,1039.4 L605.2,1042.7" stroke="#000" stroke-width="2.1" fill="none" stroke-linecap="butt"/>
<text class="lb" transform="translate(441.0,1080.2) scale(1.12,1)">2</text>
<text class="lb" transform="translate(266.0,1185.2) scale(1.12,1)">5</text>
</g>
<path d="M164.7,1287 L164.7,1299.4 M164.9,1287.2 L161.1,1290.2" stroke="#000" stroke-width="1.7" fill="none"/>
<path d="M174.8,1287 L174.8,1299.4 M175.0,1287.2 L171.2,1290.2" stroke="#000" stroke-width="1.7" fill="none"/>
<path d="M185.0,1287 L185.0,1299.4 M185.2,1287.2 L181.4,1290.2" stroke="#000" stroke-width="1.7" fill="none"/>
<path d="M224.8,1287 L224.8,1299.4 M225.0,1287.2 L221.2,1290.2" stroke="#000" stroke-width="1.7" fill="none"/>
<path d="M235.0,1287 L235.0,1299.4 M235.2,1287.2 L231.4,1290.2" stroke="#000" stroke-width="1.7" fill="none"/>
<path d="M115.6,1424.8 L115.6,1449 M115.9,1425 L108.6,1431.6" stroke="#000" stroke-width="3" fill="none"/>
<text class="ft" transform="translate(115.3,1299.4) scale(1.2,1)" style="font-size:17.5px;letter-spacing:0.8px">F2D</text><text class="ft" transform="translate(191.5,1299.4) scale(1.45,1)" style="font-size:17.5px">0</text><text class="ft" transform="translate(204,1299.4) scale(1.2,1)" style="font-size:17.5px;letter-spacing:-0.6px">-J</text><text class="ft" transform="translate(240,1299.4) scale(1.45,1)" style="font-size:17.5px">0</text>
<text class="ft" x="41" y="1449" style="font-size:34px;letter-spacing:0.38px;stroke:#000;stroke-width:0.2px">©20<tspan style="fill:none;stroke:none">1</tspan>4 Yamaha Motor Corporation, U.S.A. All rights reserved.</text>
</svg>
</body></html>
